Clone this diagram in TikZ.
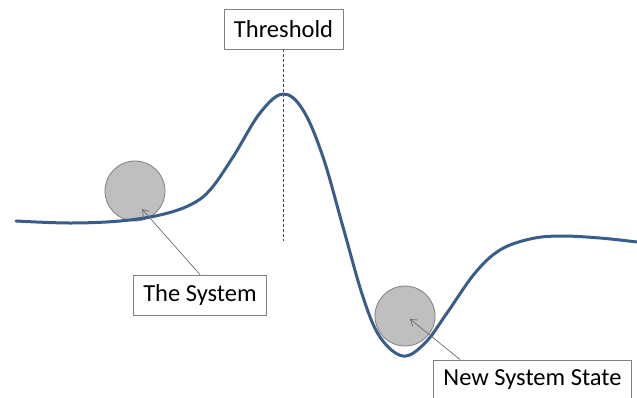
\documentclass[tikz,border=0pt]{standalone}
\usepackage{fontspec}
\setmainfont{Carlito}
\usetikzlibrary{arrows.meta,calc}
\definecolor{curveblue}{RGB}{56,93,138}
\definecolor{ballfill}{RGB}{191,191,191}
\definecolor{ballline}{RGB}{128,128,128}
\definecolor{boxline}{RGB}{128,128,128}
\definecolor{arrowgray}{RGB}{110,110,110}
\tikzset{
  labelbox/.style={draw=boxline, fill=white, line width=0.8pt, minimum height=40pt, inner xsep=10pt, inner ysep=0pt, font=\fontsize{24.5}{28}\selectfont, text=black},
  ball/.style={circle, draw=ballline, fill=ballfill, line width=0.8pt, minimum size=60pt, inner sep=0pt},
  pointer/.style={draw=arrowgray, line width=0.7pt, -{Straight Barb[length=6pt,width=8pt]}},
  landscape/.style={draw=curveblue, line width=3pt, line cap=round, line join=round}
}
\begin{document}
\begin{tikzpicture}[x=1pt,y=-1pt]
\useasboundingbox (0,0) rectangle (637,397);
% balls
\node[ball] (ball1) at (135,191) {};
\node[ball] (ball2) at (405,316) {};
% threshold line
\node[labelbox] (th) at (283.5,29) {Threshold};
\coordinate (thend) at (283.5,241);
\draw[black!70, line width=0.6pt, densely dashed] (th.south) -- (thend);
% landscape curve
\draw[landscape] plot[smooth, tension=0.6] coordinates {
(16,221) (70,223) (120,221) (160,215) (190,205) (210,190) (233,157) (260,113) (283,94) (303,110) (323,157) (343,227) (363,297) (380,337) (403,356) (425,343) (447,313) (475,273) (500,250) (530,239) (560,236) (600,238) (637,242)};
% labels
\node[labelbox] (sys) at (200,295) {The System};
\node[labelbox] (nss) at (532.5,380) {New System State};
\coordinate (tip1) at (142,209);
\coordinate (tip2) at (410,319);
\coordinate (nssstart) at ($(nss.north west)+(27,0)$);
\draw[pointer] (sys.north) -- (tip1);
\draw[pointer] (nssstart) -- (tip2);
\end{tikzpicture}
\end{document}
